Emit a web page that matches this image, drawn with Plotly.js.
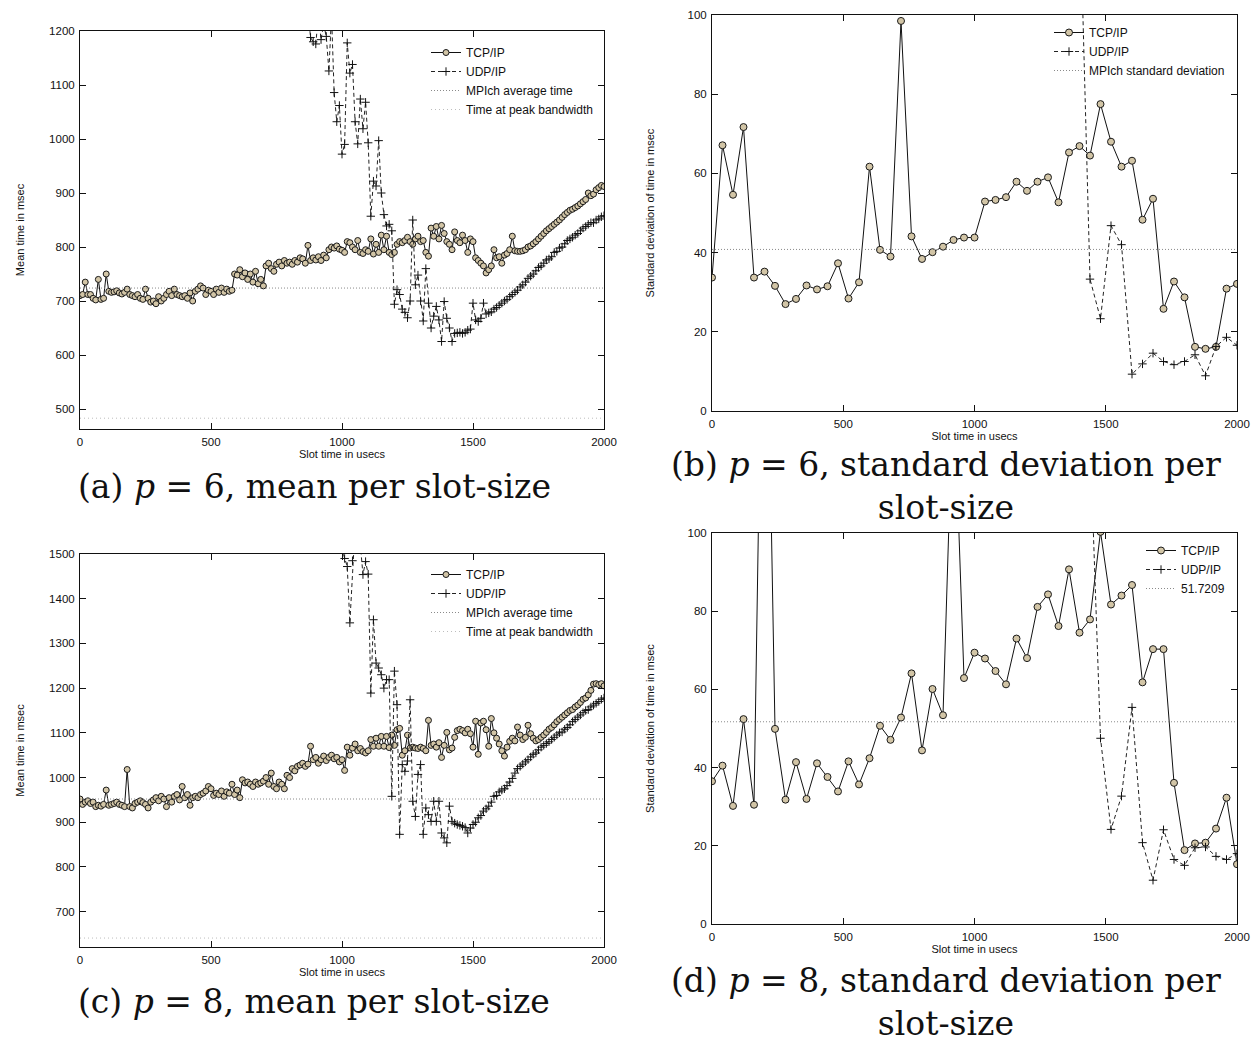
<!DOCTYPE html>
<html>
<head>
<meta charset="utf-8">
<script src="https://cdn.plot.ly/plotly-3.0.1.min.js"></script>
<style>
html,body{margin:0;padding:0;background:#fff;}
#chart{width:1252px;height:1045px;}
</style>
</head>
<body>
<div id="chart"></div>
<script>
// ---------- DATA ----------
// slot sizes (usecs) for the mean plots
const slots10 = [
  0,10,20,30,40,50,60,70,80,90,
  100,110,120,130,140,150,160,170,180,190,
  200,210,220,230,240,250,260,270,280,290,
  300,310,320,330,340,350,360,370,380,390,
  400,410,420,430,440,450,460,470,480,490,
  500,510,520,530,540,550,560,570,580,590,
  600,610,620,630,640,650,660,670,680,690,
  700,710,720,730,740,750,760,770,780,790,
  800,810,820,830,840,850,860,870,880,890,
  900,910,920,930,940,950,960,970,980,990,
  1000,1010,1020,1030,1040,1050,1060,1070,1080,1090,
  1100,1110,1120,1130,1140,1150,1160,1170,1180,1190,
  1200,1210,1220,1230,1240,1250,1260,1270,1280,1290,
  1300,1310,1320,1330,1340,1350,1360,1370,1380,1390,
  1400,1410,1420,1430,1440,1450,1460,1470,1480,1490,
  1500,1510,1520,1530,1540,1550,1560,1570,1580,1590,
  1600,1610,1620,1630,1640,1650,1660,1670,1680,1690,
  1700,1710,1720,1730,1740,1750,1760,1770,1780,1790,
  1800,1810,1820,1830,1840,1850,1860,1870,1880,1890,
  1900,1910,1920,1930,1940,1950,1960,1970,1980,1990,
  2000
];

// (a) p = 6, mean time (msec)
const tcpMeanP6 = [
  710,712,735,712,712,705,702,740,703,705,
  750,718,716,717,719,715,713,716,722,712,
  710,708,712,705,703,722,705,698,700,695,
  708,700,705,712,718,710,722,712,710,708,
  710,705,715,700,718,722,728,724,712,720,
  718,712,722,716,724,716,722,718,720,750,
  748,758,745,752,740,750,735,755,732,740,
  728,765,770,760,755,768,772,765,775,770,
  772,768,775,772,780,778,770,803,775,780,
  776,782,775,785,780,795,800,798,802,796,
  794,790,810,808,800,795,812,790,788,795,
  792,815,787,805,790,822,795,820,790,786,
  790,805,810,808,812,818,810,805,815,820,
  810,812,790,783,835,820,838,815,840,825,
  810,805,795,828,812,808,822,812,790,815,
  810,780,775,770,765,752,758,765,795,780,
  782,770,785,788,795,820,793,792,792,793,
  795,800,802,806,810,815,820,825,830,834,
  838,842,846,850,855,860,864,868,870,873,
  876,880,884,888,900,895,898,906,910,914,
  912
];
// UDP/IP, slots 860..2000
const udpMeanP6 = [
  1290,1240,1188,1180,
  1176,1230,1184,1212,1190,1126,1230,1086,1032,1062,
  972,990,1178,1122,1138,1032,991,1074,1019,1068,
  993,857,922,913,997,900,860,839,842,830,
  694,721,712,685,679,669,700,850,730,748,
  700,663,760,696,650,672,690,665,625,699,
  668,650,625,640,641,642,640,642,646,648,
  696,665,662,668,696,676,678,680,685,688,
  692,696,700,703,708,712,716,720,726,730,
  735,742,746,750,756,762,765,770,776,778,
  782,790,792,798,800,806,812,815,818,822,
  825,830,835,838,842,845,845,850,852,856,
  858
];

// (c) p = 8, mean time (msec)
const tcpMeanP8 = [
  952,940,945,948,942,945,935,938,936,940,
  972,938,940,942,945,940,938,935,1018,935,
  932,942,945,948,944,940,932,945,950,955,
  948,958,952,935,955,945,958,962,950,980,
  955,962,938,955,958,955,962,965,970,980,
  975,960,965,962,970,958,968,965,985,962,
  972,955,995,988,990,985,980,990,985,988,
  992,1000,985,1010,980,975,990,985,975,1005,
  1000,1020,1015,1025,1028,1032,1025,1030,1070,1040,
  1045,1032,1040,1048,1038,1045,1050,1042,1045,1035,
  1040,1016,1068,1050,1066,1075,1060,1065,1058,1055,
  1060,1085,1070,1088,1070,1092,1070,1092,1067,1095,
  1072,1107,1110,1050,1060,1095,1066,1068,1066,1065,
  1068,1065,1060,1128,1072,1075,1068,1078,1045,1072,
  1101,1062,1066,1090,1105,1108,1105,1100,1108,1098,
  1068,1126,1052,1122,1126,1107,1070,1132,1100,1088,
  1075,1060,1048,1068,1081,1088,1082,1113,1095,1085,
  1090,1117,1098,1088,1082,1085,1090,1095,1101,1108,
  1112,1118,1125,1130,1135,1140,1145,1150,1152,1158,
  1162,1168,1175,1178,1185,1195,1209,1210,1208,1210,
  1205
];
// UDP/IP, slots 980..2000
const udpMeanP8 = [
  1560,1530,
  1510,1490,1472,1346,1485,1560,1540,1520,1454,1483,
  1455,1189,1353,1256,1245,1230,1200,1219,1219,958,
  1238,1163,873,1029,1014,1037,1174,947,913,1007,
  1029,873,932,917,902,947,902,947,876,865,
  854,936,902,898,895,893,891,888,876,887,
  895,900,910,915,925,930,936,945,958,960,
  968,972,975,982,990,998,1010,1020,1025,1030,
  1035,1040,1046,1052,1055,1062,1068,1072,1076,1080,
  1085,1090,1095,1100,1102,1108,1112,1118,1125,1130,
  1135,1140,1145,1150,1152,1158,1162,1166,1170,1175,
  1178
];

// slot sizes for the standard deviation plots
const slots40 = [
  0,40,80,120,160,200,240,280,320,360,
  400,440,480,520,560,600,640,680,720,760,
  800,840,880,920,960,1000,1040,1080,1120,1160,
  1200,1240,1280,1320,1360,1400,1440,1480,1520,1560,
  1600,1640,1680,1720,1760,1800,1840,1880,1920,1960,
  2000
];
// (b) p = 6, standard deviation (msec)
const tcpStdP6 = [
  33.7,67.1,54.6,71.7,33.7,35.2,31.6,27.0,28.3,31.7,
  30.7,31.5,37.3,28.4,32.5,61.7,40.7,39.0,98.5,44.1,
  38.4,40.1,41.5,43.2,43.8,43.8,52.9,53.3,54.0,57.9,
  55.6,57.9,59.0,52.7,65.3,66.9,64.5,77.5,68.0,61.7,
  63.2,48.3,53.6,25.8,32.7,28.7,16.2,15.7,16.2,30.9,
  32.1
];
// UDP/IP, slots 1400..2000
const udpStdP6 = [132,33.3,23.3,46.8,42.0,9.3,11.9,14.6,12.5,11.7,12.5,14.2,8.9,16.3,18.6,16.6];

// (d) p = 8, standard deviation (msec)
const tcpStdP8 = [
  36.5,40.5,30.2,52.4,30.5,200,49.9,31.8,41.4,32.0,
  41.1,37.6,33.9,41.6,35.7,42.4,50.7,47.1,52.8,64.1,
  44.4,60.1,53.4,140,62.9,69.4,67.9,64.7,61.3,73.0,
  68.0,81.1,84.3,76.2,90.7,74.5,77.9,100.3,81.7,84.0,
  86.7,61.8,70.3,70.3,36.1,18.9,20.6,20.8,24.4,32.3,
  15.3
];
// UDP/IP, slots 1440..2000
const udpStdP8 = [125,47.5,24.2,32.7,55.4,20.8,11.2,24.1,16.5,15.0,19.5,19.7,17.3,16.5,18.0];

// reference levels: [p=6, p=8]
const mpichAvgTime = [724, 952];
const peakBandwidthTime = [483, 641];
const mpichStdDev = [40.8, 51.7209];
const slotExtent = [0, 2000];

const xTickVals = [0, 500, 1000, 1500, 2000];
const meanTicksP6 = [500, 600, 700, 800, 900, 1000, 1100, 1200];
const meanTicksP8 = [700, 800, 900, 1000, 1100, 1200, 1300, 1400, 1500];
const stdTicks = [0, 20, 40, 60, 80, 100];

const captionTexts = [
  '(a) <i>p</i> = 6, mean per slot-size',
  '(b) <i>p</i> = 6, standard deviation per<br>slot-size',
  '(c) <i>p</i> = 8, mean per slot-size',
  '(d) <i>p</i> = 8, standard deviation per<br>slot-size'
];

// ---------- CHART ----------
const W = 1252, H = 1045;
const SANS = 'Liberation Sans, Arial, Helvetica, sans-serif';
const SERIF = 'DejaVu Serif, Liberation Serif, serif';
const px = v => v / W;
const py = v => 1 - v / H;
const tail = (arr, n) => arr.slice(arr.length - n);

function tcp(x, y, xa, ya, lg, msize) {
  return {type:'scatter', mode:'lines+markers', name:'TCP/IP', x:x, y:y, xaxis:xa, yaxis:ya, legend:lg,
    line:{color:'#111', width:1},
    marker:{symbol:'circle', size:msize, color:'#d2c5a6', line:{color:'#1a1a1a', width:1}}};
}
function udp(x, y, xa, ya, lg) {
  return {type:'scatter', mode:'lines+markers', name:'UDP/IP', x:x, y:y, xaxis:xa, yaxis:ya, legend:lg,
    line:{color:'#222', width:1, dash:'4px,3px'},
    marker:{symbol:'cross-thin', size:6, line:{color:'#111', width:1}}};
}
function hline(name, level, xa, ya, lg, color, dash) {
  return {type:'scatter', mode:'lines', name:name, x:slotExtent, y:[level, level], xaxis:xa, yaxis:ya, legend:lg,
    line:{color:color, width:1, dash:dash}, hoverinfo:'name+y'};
}

const traces = [
  // (a)
  tcp(slots10, tcpMeanP6, 'x', 'y', 'legend', 6),
  udp(tail(slots10, udpMeanP6.length), udpMeanP6, 'x', 'y', 'legend'),
  hline('MPIch average time', mpichAvgTime[0], 'x', 'y', 'legend', '#8a8a8a', '1px,2px'),
  hline('Time at peak bandwidth', peakBandwidthTime[0], 'x', 'y', 'legend', '#bdbdbd', '1px,3px'),
  // (b)
  tcp(slots40, tcpStdP6, 'x2', 'y2', 'legend2', 7),
  udp(tail(slots40, udpStdP6.length), udpStdP6, 'x2', 'y2', 'legend2'),
  hline('MPIch standard deviation', mpichStdDev[0], 'x2', 'y2', 'legend2', '#8a8a8a', '1px,2px'),
  // (c)
  tcp(slots10, tcpMeanP8, 'x3', 'y3', 'legend3', 6),
  udp(tail(slots10, udpMeanP8.length), udpMeanP8, 'x3', 'y3', 'legend3'),
  hline('MPIch average time', mpichAvgTime[1], 'x3', 'y3', 'legend3', '#8a8a8a', '1px,2px'),
  hline('Time at peak bandwidth', peakBandwidthTime[1], 'x3', 'y3', 'legend3', '#bdbdbd', '1px,3px'),
  // (d)
  tcp(slots40, tcpStdP8, 'x4', 'y4', 'legend4', 7),
  udp(tail(slots40, udpStdP8.length), udpStdP8, 'x4', 'y4', 'legend4'),
  hline(String(mpichStdDev[1]), mpichStdDev[1], 'x4', 'y4', 'legend4', '#8a8a8a', '1px,2px')
];

const axBase = {
  showline:true, linecolor:'#111', linewidth:1, mirror:'allticks',
  ticks:'inside', ticklen:6, tickcolor:'#111', tickwidth:1,
  showgrid:false, zeroline:false, ticklabelstandoff:2,
  tickfont:{family:SANS, size:11.5, color:'#111'}
};
function xax(dom, anchor) {
  return Object.assign({}, axBase, {domain:dom, anchor:anchor, range:[0, 2000], tickvals:xTickVals,
    title:{text:'Slot time in usecs', font:{family:SANS, size:11, color:'#111'}, standoff:1}});
}
function yax(dom, anchor, range, ticks, title, standoff) {
  return Object.assign({}, axBase, {domain:dom, anchor:anchor, range:range, tickvals:ticks,
    title:{text:title, font:{family:SANS, size:11, color:'#111'}, standoff:standoff}});
}
const legBase = {bgcolor:'rgba(0,0,0,0)', borderwidth:0, xanchor:'right', yanchor:'top',
  font:{family:SANS, size:12, color:'#111'}, tracegroupgap:0};

// caption placement: [centre x, centre y] in pixels
const captionPlacement = [
  [314, 486],
  [946, 486],
  [314, 1001],
  [946, 1002]
];

const layout = {
  width:W, height:H, margin:{l:0, r:0, t:0, b:0},
  paper_bgcolor:'#fff', plot_bgcolor:'#fff', showlegend:true,
  xaxis:  xax([px(80),  px(604)],  'y'),
  yaxis:  yax([py(429), py(31)],  'x',  [463, 1200], meanTicksP6, 'Mean time in msec', 22),
  xaxis2: xax([px(712), px(1237)], 'y2'),
  yaxis2: yax([py(411), py(15)],  'x2', [0, 100], stdTicks, 'Standard deviation of time in msec', 30),
  xaxis3: xax([px(80),  px(604)],  'y3'),
  yaxis3: yax([py(947), py(554)], 'x3', [621, 1500], meanTicksP8, 'Mean time in msec', 22),
  xaxis4: xax([px(712), px(1237)], 'y4'),
  yaxis4: yax([py(924), py(533)], 'x4', [0, 100], stdTicks, 'Standard deviation of time in msec', 30),
  legend:  Object.assign({}, legBase, {x:px(598),  y:py(38)}),
  legend2: Object.assign({}, legBase, {x:px(1230), y:py(18)}),
  legend3: Object.assign({}, legBase, {x:px(598),  y:py(560)}),
  legend4: Object.assign({}, legBase, {x:px(1230), y:py(536)}),
  annotations: captionPlacement.map(([cx, cy], i) => ({
    text: captionTexts[i],
    x: px(cx), y: py(cy), xref:'paper', yref:'paper', showarrow:false,
    xanchor:'center', yanchor:'middle', align:'center',
    font:{family:SERIF, size:33, color:'#111'}
  }))
};

Plotly.newPlot('chart', traces, layout, {displayModeBar:false, responsive:false});
</script>
</body>
</html>
